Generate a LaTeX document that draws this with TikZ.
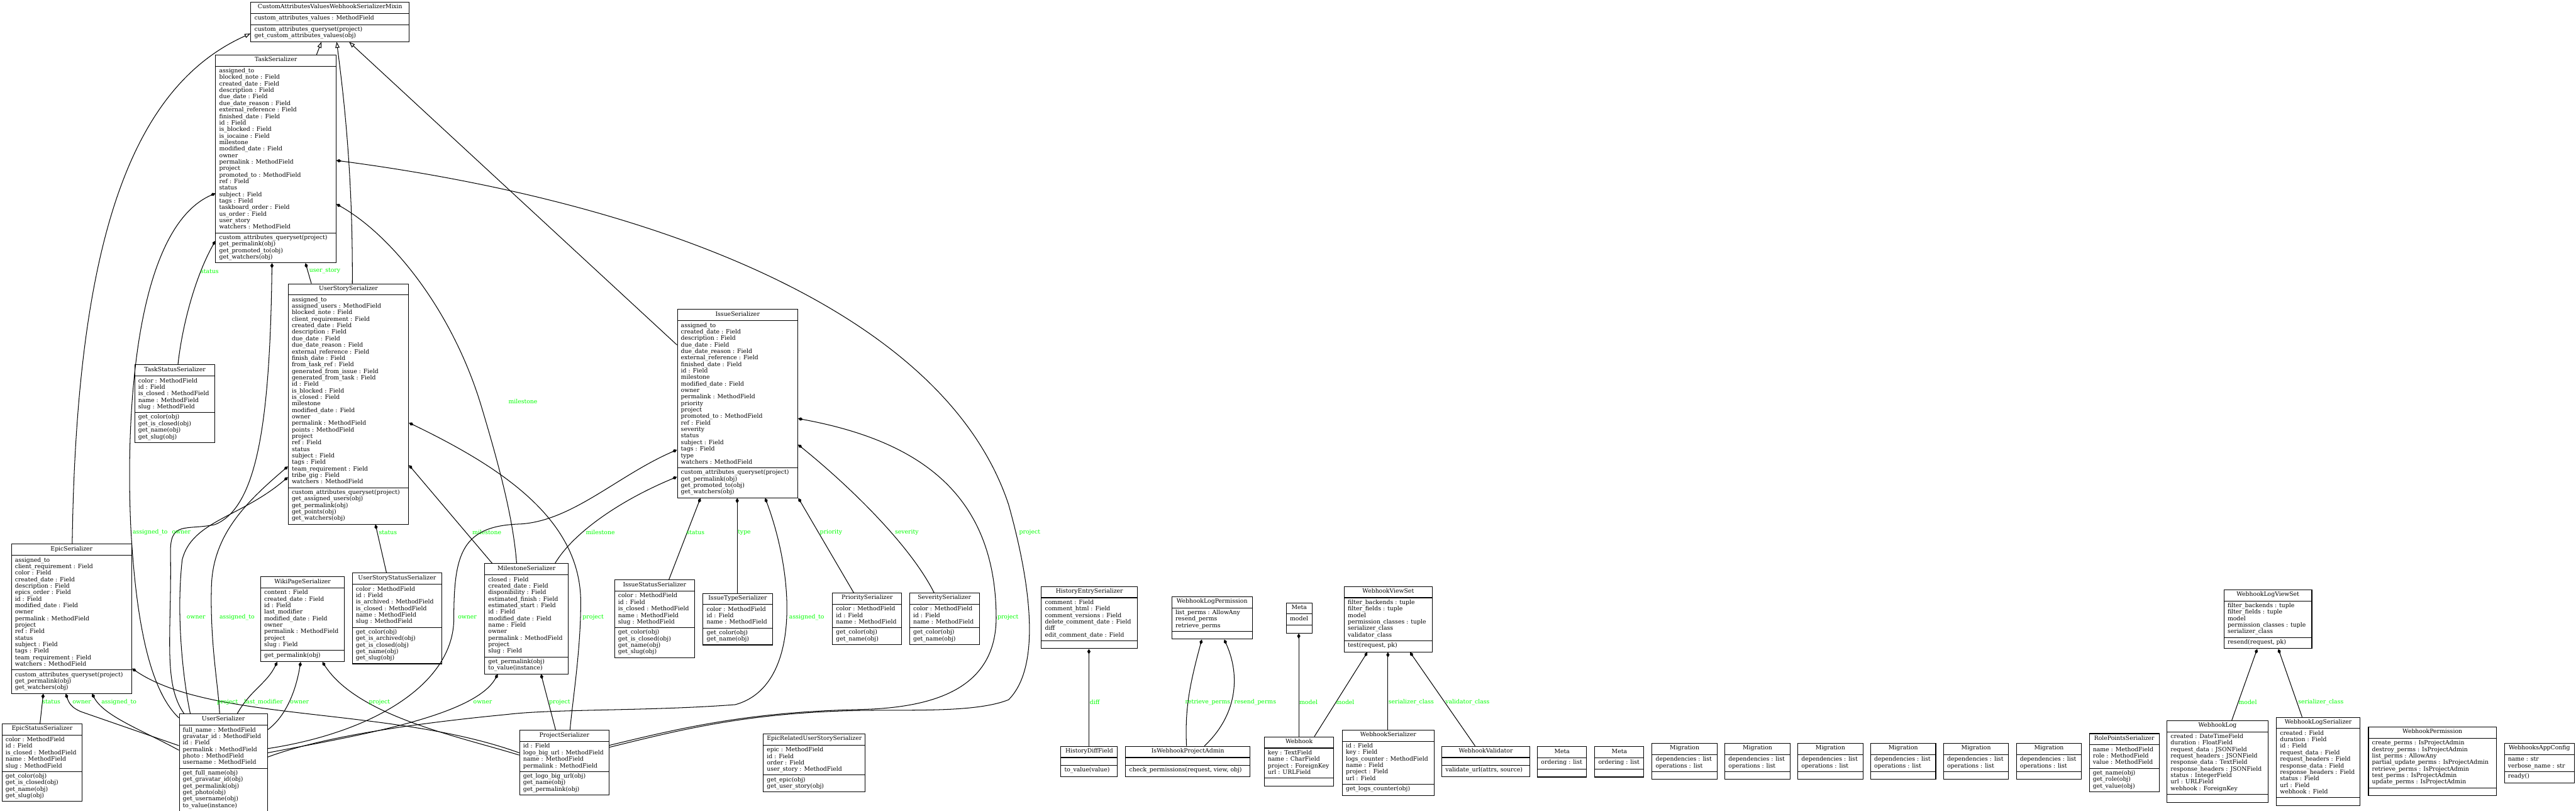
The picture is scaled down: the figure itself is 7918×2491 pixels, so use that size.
\documentclass[tikz,border=0pt]{standalone}
\usepackage{fontspec}
\setmainfont{DejaVu Serif}
\usetikzlibrary{shapes.multipart,arrows.meta}
\definecolor{lblgreen}{RGB}{0,255,0}
\newcommand{\classfont}{\fontsize{1.8bp}{2bp}\selectfont}
\newcommand{\crows}[1]{\begin{tabular}{@{}l@{}}#1\end{tabular}}
\tikzstyle{cls} = [rectangle split, rectangle split parts=3, draw, line width=0.2bp,
    anchor=north west, inner xsep=1.1bp, inner ysep=0.5bp, font=\classfont,
    rectangle split part align={center,left,left}]
\tikzstyle{comp} = [draw, line width=0.2bp, {Diamond[length=1.6bp,width=1bp]}-]
\tikzstyle{inh} = [draw, line width=0.2bp, -{Triangle[open,length=1.8bp,width=1.3bp]}]
\tikzstyle{lbl} = [text=lblgreen, font=\classfont, anchor=west, inner sep=0pt]
% \umlclass{name}{left,top}{width}{title}{attributes}{methods}
\newcommand{\umlclass}[6]{\node[cls, minimum width=#3*0.1bp] (#1) at (#2)
    {\crows{#4}\nodepart{two}\crows{#5}\nodepart{three}\crows{#6}};}

\begin{document}
\begin{tikzpicture}[x=0.1bp, y=-0.1bp]
  \useasboundingbox (0,0) rectangle (7918,2491);

  % serializers of the taiga objects
  \umlclass{mixin}{770,6}{487}{CustomAttributesValuesWebhookSerializerMixin}
    {custom\_attributes\_values : MethodField}
    {custom\_attributes\_queryset(project)\\get\_custom\_attributes\_values(obj)}
  \umlclass{task}{662,168}{370}{TaskSerializer}
    {assigned\_to\\blocked\_note : Field\\created\_date : Field\\description : Field\\due\_date : Field\\
     due\_date\_reason : Field\\external\_reference : Field\\finished\_date : Field\\id : Field\\
     is\_blocked : Field\\is\_iocaine : Field\\milestone\\modified\_date : Field\\owner\\
     permalink : MethodField\\project\\promoted\_to : MethodField\\ref : Field\\status\\
     subject : Field\\tags : Field\\taskboard\_order : Field\\us\_order : Field\\user\_story\\
     watchers : MethodField}
    {custom\_attributes\_queryset(project)\\get\_permalink(obj)\\get\_promoted\_to(obj)\\get\_watchers(obj)}
  \umlclass{userstory}{885,871}{370}{UserStorySerializer}
    {assigned\_to\\assigned\_users : MethodField\\blocked\_note : Field\\client\_requirement : Field\\
     created\_date : Field\\description : Field\\due\_date : Field\\due\_date\_reason : Field\\
     external\_reference : Field\\finish\_date : Field\\from\_task\_ref : Field\\
     generated\_from\_issue : Field\\generated\_from\_task : Field\\id : Field\\is\_blocked : Field\\
     is\_closed : Field\\milestone\\modified\_date : Field\\owner\\permalink : MethodField\\
     points : MethodField\\project\\ref : Field\\status\\subject : Field\\tags : Field\\
     team\_requirement : Field\\tribe\_gig : Field\\watchers : MethodField}
    {custom\_attributes\_queryset(project)\\get\_assigned\_users(obj)\\get\_permalink(obj)\\
     get\_points(obj)\\get\_watchers(obj)}
  \umlclass{taskstatus}{413,1120}{247}{TaskStatusSerializer}
    {color : MethodField\\id : Field\\is\_closed : MethodField\\name : MethodField\\slug : MethodField}
    {get\_color(obj)\\get\_is\_closed(obj)\\get\_name(obj)\\get\_slug(obj)}
  \umlclass{epic}{34,1671}{370}{EpicSerializer}
    {assigned\_to\\client\_requirement : Field\\color : Field\\created\_date : Field\\
     description : Field\\epics\_order : Field\\id : Field\\modified\_date : Field\\owner\\
     permalink : MethodField\\project\\ref : Field\\status\\subject : Field\\tags : Field\\
     team\_requirement : Field\\watchers : MethodField}
    {custom\_attributes\_queryset(project)\\get\_permalink(obj)\\get\_watchers(obj)}
  \umlclass{epicstatus}{5,2223}{247}{EpicStatusSerializer}
    {color : MethodField\\id : Field\\is\_closed : MethodField\\name : MethodField\\slug : MethodField}
    {get\_color(obj)\\get\_is\_closed(obj)\\get\_name(obj)\\get\_slug(obj)}
  \umlclass{user}{550,2193}{271}{UserSerializer}
    {full\_name : MethodField\\gravatar\_id : MethodField\\id : Field\\permalink : MethodField\\
     photo : MethodField\\username : MethodField}
    {get\_full\_name(obj)\\get\_gravatar\_id(obj)\\get\_permalink(obj)\\get\_photo(obj)\\
     get\_username(obj)\\to\_value(instance)}
  \umlclass{wiki}{800,1771}{258}{WikiPageSerializer}
    {content : Field\\created\_date : Field\\id : Field\\last\_modifier\\modified\_date : Field\\
     owner\\permalink : MethodField\\project\\slug : Field}
    {get\_permalink(obj)}
  \umlclass{usstatus}{1082,1760}{275}{UserStoryStatusSerializer}
    {color : MethodField\\id : Field\\is\_archived : MethodField\\is\_closed : MethodField\\
     name : MethodField\\slug : MethodField}
    {get\_color(obj)\\get\_is\_archived(obj)\\get\_is\_closed(obj)\\get\_name(obj)\\get\_slug(obj)}
  \umlclass{milestone}{1489,1731}{257}{MilestoneSerializer}
    {closed : Field\\created\_date : Field\\disponibility : Field\\estimated\_finish : Field\\
     estimated\_start : Field\\id : Field\\modified\_date : Field\\name : Field\\owner\\
     permalink : MethodField\\project\\slug : Field}
    {get\_permalink(obj)\\to\_value(instance)}
  \umlclass{project}{1596,2243}{275}{ProjectSerializer}
    {id : Field\\logo\_big\_url : MethodField\\name : MethodField\\permalink : MethodField}
    {get\_logo\_big\_url(obj)\\get\_name(obj)\\get\_permalink(obj)}
  \umlclass{issue}{2081,950}{370}{IssueSerializer}
    {assigned\_to\\created\_date : Field\\description : Field\\due\_date : Field\\
     due\_date\_reason : Field\\external\_reference : Field\\finished\_date : Field\\id : Field\\
     milestone\\modified\_date : Field\\owner\\permalink : MethodField\\priority\\project\\
     promoted\_to : MethodField\\ref : Field\\severity\\status\\subject : Field\\tags : Field\\
     type\\watchers : MethodField}
    {custom\_attributes\_queryset(project)\\get\_permalink(obj)\\get\_promoted\_to(obj)\\get\_watchers(obj)}
  \umlclass{issuestatus}{1888,1781}{246}{IssueStatusSerializer}
    {color : MethodField\\id : Field\\is\_closed : MethodField\\name : MethodField\\slug : MethodField}
    {get\_color(obj)\\get\_is\_closed(obj)\\get\_name(obj)\\get\_slug(obj)}
  \umlclass{issuetype}{2160,1822}{213}{IssueTypeSerializer}
    {color : MethodField\\id : Field\\name : MethodField}
    {get\_color(obj)\\get\_name(obj)}
  \umlclass{priority}{2558,1821}{213}{PrioritySerializer}
    {color : MethodField\\id : Field\\name : MethodField}
    {get\_color(obj)\\get\_name(obj)}
  \umlclass{severity}{2795,1821}{214}{SeveritySerializer}
    {color : MethodField\\id : Field\\name : MethodField}
    {get\_color(obj)\\get\_name(obj)}
  \umlclass{epicrelated}{2345,2254}{302}{EpicRelatedUserStorySerializer}
    {epic : MethodField\\id : Field\\order : Field\\user\_story : MethodField}
    {get\_epic(obj)\\get\_user\_story(obj)}

  % webhooks app
  \umlclass{historyentry}{3200,1801}{295}{HistoryEntrySerializer}
    {comment : Field\\comment\_html : Field\\comment\_versions : Field\\delete\_comment\_date : Field\\
     diff\\edit\_comment\_date : Field}{}
  \umlclass{historydiff}{3260,2292}{174}{HistoryDiffField}{}{to\_value(value)}
  \umlclass{logperm}{3601,1832}{247}{WebhookLogPermission}
    {list\_perms : AllowAny\\resend\_perms\\retrieve\_perms}{}
  \umlclass{projadmin}{3459,2292}{382}{IsWebhookProjectAdmin}{}{check\_permissions(request, view, obj)}
  \umlclass{metahook}{3953,1851}{79}{Meta}{model}{}
  \umlclass{webhook}{3885,2263}{214}{Webhook}
    {key : TextField\\name : CharField\\project : ForeignKey\\url : URLField}{}
  \umlclass{viewset}{4131,1801}{270}{WebhookViewSet}
    {filter\_backends : tuple\\filter\_fields : tuple\\model\\permission\_classes : tuple\\
     serializer\_class\\validator\_class}
    {test(request, pk)}
  \umlclass{hookser}{4125,2242}{282}{WebhookSerializer}
    {id : Field\\key : Field\\logs\_counter : MethodField\\name : Field\\project : Field\\url : Field}
    {get\_logs\_counter(obj)}
  \umlclass{validator}{4431,2292}{270}{WebhookValidator}{}{validate\_url(attrs, source)}
  \umlclass{metaa}{4725,2293}{151}{Meta}{ordering : list}{}
  \umlclass{metab}{4901,2293}{151}{Meta}{ordering : list}{}
  \foreach \mx [count=\i] in {5077,5301,5525,5749,5973,6197}
    \umlclass{mig\i}{\mx,2283}{200}{Migration}{dependencies : list\\operations : list}{};
  \umlclass{rolepoints}{6421,2253}{215}{RolePointsSerializer}
    {name : MethodField\\role : MethodField\\value : MethodField}
    {get\_name(obj)\\get\_role(obj)\\get\_value(obj)}
  \umlclass{logviewset}{6835,1811}{270}{WebhookLogViewSet}
    {filter\_backends : tuple\\filter\_fields : tuple\\model\\permission\_classes : tuple\\serializer\_class}
    {resend(request, pk)}
  \umlclass{hooklog}{6660,2213}{310}{WebhookLog}
    {created : DateTimeField\\duration : FloatField\\request\_data : JSONField\\
     request\_headers : JSONField\\response\_data : TextField\\response\_headers : JSONField\\
     status : IntegerField\\url : URLField\\webhook : ForeignKey}{}
  \umlclass{logser}{6996,2203}{257}{WebhookLogSerializer}
    {created : Field\\duration : Field\\id : Field\\request\_data : Field\\request\_headers : Field\\
     response\_data : Field\\response\_headers : Field\\status : Field\\url : Field\\webhook : Field}{}
  \umlclass{hookperm}{7279,2233}{393}{WebhookPermission}
    {create\_perms : IsProjectAdmin\\destroy\_perms : IsProjectAdmin\\list\_perms : AllowAny\\
     partial\_update\_perms : IsProjectAdmin\\retrieve\_perms : IsProjectAdmin\\
     test\_perms : IsProjectAdmin\\update\_perms : IsProjectAdmin}{}
  \umlclass{appconfig}{7697,2283}{215}{WebhooksAppConfig}{name : str\\verbose\_name : str}{ready()}

  % inheritance
  \draw[inh] (epic.north -| 222,0) .. controls (235,700) and (420,260) .. (mixin.west |- 0,103);
  \draw[inh] (task.north -| 973,0) -- (mixin.south -| 988,0);
  \draw[inh] (userstory.north -| 1083,0) .. controls (1085,500) and (1050,250) .. (mixin.south -| 1035,0);
  \draw[inh] (issue.west |- 0,1060) -- (mixin.south -| 1073,0);

  % task
  \draw[comp] (task.west |- 0,594) .. controls (420,700) and (385,1250) .. (402,1620)
    .. controls (420,1950) and (470,2130) .. (user.west |- 0,2206)
    node[lbl] at (407,1636) {assigned\_to};
  \draw[comp] (task.south -| 836,0) .. controls (830,1300) and (790,1560) .. (660,1612)
    .. controls (570,1630) and (522,1600) .. (524,1700)
    .. controls (528,1950) and (500,2100) .. (user.north -| 566,0)
    node[lbl] at (528,1636) {owner};
  \draw[comp] (task.west |- 0,740) .. controls (600,850) and (560,1000) .. (taskstatus.north -| 547,0)
    node[lbl] at (616,833) {status};
  \draw[comp] (task.south -| 939,0) -- (userstory.north -| 957,0)
    node[lbl] at (950,833) {user\_story};
  \draw[comp] (task.east |- 0,627) .. controls (1200,720) and (1390,950) .. (1480,1250)
    .. controls (1540,1450) and (1578,1600) .. (milestone.north -| 1588,0)
    node[lbl] at (1562,1234) {milestone};
  \draw[comp] (task.east |- 0,493) .. controls (2000,620) and (2900,950) .. (3100,1550)
    .. controls (3170,1800) and (3200,2050) .. (3100,2150)
    .. controls (3000,2190) and (2800,2180) .. (2640,2183)
    .. controls (2300,2190) and (2100,2240) .. (project.east |- 0,2296)
    node[lbl] at (3132,1636) {project};

  % user story
  \draw[comp] (userstory.south -| 1154,0) -- (usstatus.north -| 1188,0)
    node[lbl] at (1164,1636) {status};
  \draw[comp] (userstory.east |- 0,1429) -- (milestone.north -| 1513,0)
    node[lbl] at (1451,1636) {milestone};
  \draw[comp] (userstory.east |- 0,1299) .. controls (1550,1440) and (1785,1600) .. (1785,1850)
    .. controls (1785,2000) and (1760,2150) .. (project.north -| 1752,0)
    node[lbl] at (1790,1896) {project};
  \draw[comp] (userstory.west |- 0,1433) .. controls (760,1540) and (655,1640) .. (650,1800)
    .. controls (645,1980) and (672,2110) .. (user.north -| 675,0)
    node[lbl] at (674,1896) {assigned\_to};
  \draw[comp] (userstory.west |- 0,1466) .. controls (740,1590) and (590,1600) .. (560,1720)
    .. controls (540,1900) and (565,2100) .. (user.north -| 585,0)
    node[lbl] at (573,1896) {owner};

  % epic
  \draw[comp] (epic.south -| 133,0) -- (epicstatus.north -| 123,0)
    node[lbl] at (129,2157) {status};
  \draw[comp] (epic.south -| 202,0) .. controls (212,2160) and (220,2175) .. (250,2187)
    -- (user.west |- 0,2291) node[lbl] at (222,2157) {owner};
  \draw[comp] (epic.south -| 283,0) .. controls (320,2200) and (430,2240) .. (user.west |- 0,2305)
    node[lbl] at (311,2157) {assigned\_to};
  \draw[comp] (epic.east |- 0,2054) .. controls (650,2220) and (1200,2170) .. (project.west |- 0,2313)
    node[lbl] at (666,2157) {project};

  % wiki page
  \draw[comp] (wiki.south -| 852,0) .. controls (820,2100) and (770,2120) .. (user.north -| 729,0)
    node[lbl] at (750,2157) {last\_modifier};
  \draw[comp] (wiki.south -| 924,0) .. controls (910,2120) and (880,2200) .. (user.east |- 0,2242)
    node[lbl] at (891,2157) {owner};
  \draw[comp] (wiki.south -| 991,0) .. controls (1100,2200) and (1400,2260) .. (project.west |- 0,2320)
    node[lbl] at (1133,2157) {project};

  % milestone
  \draw[comp] (milestone.south -| 1530,0) .. controls (1460,2200) and (1100,2260) .. (user.east |- 0,2313)
    node[lbl] at (1454,2157) {owner};
  \draw[comp] (milestone.south -| 1663,0) -- (project.north -| 1708,0)
    node[lbl] at (1687,2157) {project};

  % issue
  \draw[comp] (issue.south -| 2153,0) -- (issuestatus.north -| 2056,0)
    node[lbl] at (2109,1636) {status};
  \draw[comp] (issue.south -| 2266,0) -- (issuetype.north -| 2266,0)
    node[lbl] at (2267,1636) {type};
  \draw[comp] (issue.south -| 2352,0) .. controls (2445,1780) and (2460,2110) .. (2260,2165)
    .. controls (2000,2185) and (1700,2178) .. (1560,2195)
    .. controls (1300,2220) and (1000,2260) .. (user.east |- 0,2326)
    node[lbl] at (2425,1896) {assigned\_to};
  \draw[comp] (issue.south -| 2454,0) -- (priority.north -| 2624,0)
    node[lbl] at (2519,1636) {priority};
  \draw[comp] (issue.east |- 0,1366) .. controls (2601,1485) and (2796,1671) .. (severity.north -| 2871,0)
    node[lbl] at (2750,1636) {severity};
  \draw[comp] (issue.east |- 0,1286) .. controls (2800,1350) and (3062,1500) .. (3062,1900)
    .. controls (3060,2100) and (2900,2175) .. (2640,2180)
    .. controls (2300,2188) and (2100,2235) .. (project.east |- 0,2290)
    node[lbl] at (3065,1897) {project};
  \draw[comp] (issue.west |- 0,1382) .. controls (1900,1460) and (1760,1600) .. (1600,1610)
    .. controls (1420,1615) and (1395,1700) .. (1395,1900)
    .. controls (1395,2100) and (1150,2250) .. (user.east |- 0,2300)
    node[lbl] at (1407,1896) {owner};
  \draw[comp] (issue.west |- 0,1465) .. controls (1900,1540) and (1760,1640) .. (milestone.north -| 1706,0)
    node[lbl] at (1800,1636) {milestone};

  % webhooks
  \draw[comp] (historyentry.south -| 3347,0) -- (historydiff.north -| 3347,0)
    node[lbl] at (3349,2157) {diff};
  \draw[comp] (logperm.south -| 3694,0) .. controls (3655,2110) and (3642,2180) .. (projadmin.north -| 3647,0)
    node[lbl] at (3642,2157) {retrieve\_perms};
  \draw[comp] (logperm.south -| 3763,0) .. controls (3815,2080) and (3800,2200) .. (projadmin.north -| 3702,0)
    node[lbl] at (3793,2157) {resend\_perms};
  \draw[comp] (metahook.south -| 3992,0) -- (webhook.north -| 3992,0)
    node[lbl] at (3993,2157) {model};
  \draw[comp] (viewset.south -| 4203,0) -- (webhook.north -| 4040,0)
    node[lbl] at (4106,2157) {model};
  \draw[comp] (viewset.south -| 4266,0) -- (hookser.north -| 4266,0)
    node[lbl] at (4267,2157) {serializer\_class};
  \draw[comp] (viewset.south -| 4334,0) -- (validator.north -| 4534,0)
    node[lbl] at (4442,2157) {validator\_class};
  \draw[comp] (logviewset.south -| 6938,0) -- (hooklog.north -| 6860,0)
    node[lbl] at (6880,2157) {model};
  \draw[comp] (logviewset.south -| 7003,0) -- (logser.north -| 7076,0)
    node[lbl] at (7063,2157) {serializer\_class};
\end{tikzpicture}
\end{document}
